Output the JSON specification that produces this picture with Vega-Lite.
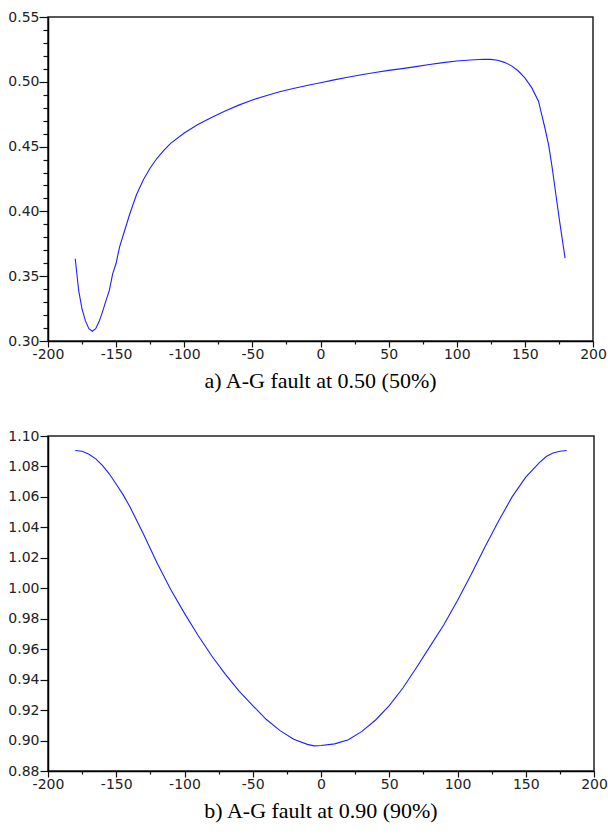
{
  "$schema": "https://vega.github.io/schema/vega-lite/v6.json",
  "padding": {"left": 7, "top": 9, "right": 5, "bottom": 5},
  "background": "white",
  "spacing": 35,
  "datasets": {
    "fault50": [
      {"angle": -180, "value": 0.3635}, {"angle": -177.5, "value": 0.339}, {"angle": -175, "value": 0.3245},
      {"angle": -172.5, "value": 0.3155}, {"angle": -170, "value": 0.3095}, {"angle": -167.5, "value": 0.3075},
      {"angle": -165, "value": 0.3095}, {"angle": -162.5, "value": 0.315}, {"angle": -160, "value": 0.3225},
      {"angle": -157.5, "value": 0.331}, {"angle": -155, "value": 0.339}, {"angle": -152.5, "value": 0.352},
      {"angle": -150, "value": 0.36}, {"angle": -147.5, "value": 0.3725}, {"angle": -145, "value": 0.381},
      {"angle": -140, "value": 0.398}, {"angle": -135, "value": 0.413}, {"angle": -130, "value": 0.4245},
      {"angle": -125, "value": 0.4335}, {"angle": -120, "value": 0.441}, {"angle": -115, "value": 0.447},
      {"angle": -110, "value": 0.4525}, {"angle": -100, "value": 0.4605}, {"angle": -90, "value": 0.467},
      {"angle": -80, "value": 0.4725}, {"angle": -70, "value": 0.4775}, {"angle": -60, "value": 0.482},
      {"angle": -50, "value": 0.486}, {"angle": -40, "value": 0.4893}, {"angle": -30, "value": 0.4923},
      {"angle": -20, "value": 0.4948}, {"angle": -10, "value": 0.4972}, {"angle": 0, "value": 0.4993},
      {"angle": 10, "value": 0.5015}, {"angle": 20, "value": 0.5035}, {"angle": 30, "value": 0.5055},
      {"angle": 40, "value": 0.5072}, {"angle": 50, "value": 0.5088}, {"angle": 60, "value": 0.5102},
      {"angle": 70, "value": 0.5117}, {"angle": 80, "value": 0.5133}, {"angle": 90, "value": 0.5148},
      {"angle": 100, "value": 0.516}, {"angle": 110, "value": 0.5168}, {"angle": 120, "value": 0.5174},
      {"angle": 125, "value": 0.5173}, {"angle": 130, "value": 0.5166}, {"angle": 135, "value": 0.515},
      {"angle": 140, "value": 0.5125}, {"angle": 145, "value": 0.5085}, {"angle": 150, "value": 0.503},
      {"angle": 155, "value": 0.4955}, {"angle": 160, "value": 0.485}, {"angle": 165, "value": 0.463},
      {"angle": 167.5, "value": 0.451}, {"angle": 170, "value": 0.434}, {"angle": 172.5, "value": 0.415},
      {"angle": 175, "value": 0.396}, {"angle": 177.5, "value": 0.378}, {"angle": 179.5, "value": 0.364}
    ],
    "fault90": [
      {"angle": -180, "value": 1.0905}, {"angle": -175, "value": 1.09}, {"angle": -170, "value": 1.088},
      {"angle": -165, "value": 1.085}, {"angle": -160, "value": 1.0805}, {"angle": -155, "value": 1.075},
      {"angle": -150, "value": 1.0683}, {"angle": -145, "value": 1.0615}, {"angle": -140, "value": 1.0535},
      {"angle": -135, "value": 1.0445}, {"angle": -130, "value": 1.0355}, {"angle": -120, "value": 1.0165},
      {"angle": -110, "value": 0.999}, {"angle": -100, "value": 0.9835}, {"angle": -90, "value": 0.969},
      {"angle": -80, "value": 0.9555}, {"angle": -70, "value": 0.9435}, {"angle": -60, "value": 0.9325},
      {"angle": -50, "value": 0.923}, {"angle": -40, "value": 0.9138}, {"angle": -30, "value": 0.9065},
      {"angle": -20, "value": 0.9008}, {"angle": -10, "value": 0.8975}, {"angle": -5, "value": 0.8965},
      {"angle": 0, "value": 0.8967}, {"angle": 10, "value": 0.8978}, {"angle": 20, "value": 0.9005},
      {"angle": 30, "value": 0.906}, {"angle": 40, "value": 0.9135}, {"angle": 50, "value": 0.923},
      {"angle": 60, "value": 0.9345}, {"angle": 70, "value": 0.948}, {"angle": 80, "value": 0.962},
      {"angle": 90, "value": 0.976}, {"angle": 100, "value": 0.992}, {"angle": 110, "value": 1.009},
      {"angle": 120, "value": 1.027}, {"angle": 130, "value": 1.044}, {"angle": 140, "value": 1.06},
      {"angle": 150, "value": 1.073}, {"angle": 160, "value": 1.0825}, {"angle": 165, "value": 1.0865},
      {"angle": 170, "value": 1.0888}, {"angle": 175, "value": 1.09}, {"angle": 180, "value": 1.0905}
    ]
  },
  "config": {
    "view": {"stroke": "#222", "strokeWidth": 1.5},
    "axis": {
      "grid": false,
      "zindex": 1,
      "domainColor": "#000",
      "domainWidth": 1.5,
      "tickColor": "#111",
      "tickWidth": 1.2,
      "labelFont": "DejaVu Sans",
      "labelFontSize": 14,
      "labelColor": "#222",
      "title": null
    },
    "title": {"font": "Liberation Serif", "fontSize": 22, "fontWeight": "normal", "color": "#000", "orient": "bottom", "anchor": "middle", "offset": 10}
  },
  "vconcat": [
    {
      "width": 545,
      "height": 324,
      "title": {"text": "a) A-G fault at 0.50 (50%)"},
      "data": {"name": "fault50"},
      "mark": {"type": "line", "color": "#1f1fff", "strokeWidth": 1.1, "clip": true},
      "encoding": {
        "x": {
          "field": "angle", "type": "quantitative",
          "scale": {"domain": [-200, 200], "nice": false, "zero": false},
          "axis": {
            "values": [-200,-175,-150,-125,-100,-75,-50,-25,0,25,50,75,100,125,150,175,200],
            "labelExpr": "abs(datum.value) % 50 == 25 ? '' : replace(datum.label, '\u2212', '-')",
            "tickSize": {"condition": {"test": "abs(datum.value) % 50 == 25", "value": 3}, "value": 6},
            "labelPadding": 0,
            "labelFlush": false,
            "labelOverlap": false
          }
        },
        "y": {
          "field": "value", "type": "quantitative",
          "scale": {"domain": [0.30, 0.55], "nice": false, "zero": false},
          "axis": {
            "values": [0.30,0.31,0.32,0.33,0.34,0.35,0.36,0.37,0.38,0.39,0.40,0.41,0.42,0.43,0.44,0.45,0.46,0.47,0.48,0.49,0.50,0.51,0.52,0.53,0.54,0.55],
            "format": ".2f",
            "labelExpr": "round(datum.value*100) % 5 != 0 ? '' : datum.label",
            "tickSize": {"condition": {"test": "round(datum.value*100) % 5 != 0", "value": 5}, "value": 9},
            "labelPadding": 0,
            "labelFlush": false,
            "labelOverlap": false
          }
        }
      }
    },
    {
      "width": 546,
      "height": 335,
      "title": {"text": "b) A-G fault at 0.90 (90%)"},
      "data": {"name": "fault90"},
      "mark": {"type": "line", "color": "#1f1fff", "strokeWidth": 1.1, "clip": true},
      "encoding": {
        "x": {
          "field": "angle", "type": "quantitative",
          "scale": {"domain": [-200, 200], "nice": false, "zero": false},
          "axis": {
            "values": [-200,-175,-150,-125,-100,-75,-50,-25,0,25,50,75,100,125,150,175,200],
            "labelExpr": "abs(datum.value) % 50 == 25 ? '' : replace(datum.label, '\u2212', '-')",
            "tickSize": {"condition": {"test": "abs(datum.value) % 50 == 25", "value": 3}, "value": 6},
            "labelPadding": 0,
            "labelFlush": false,
            "labelOverlap": false
          }
        },
        "y": {
          "field": "value", "type": "quantitative",
          "scale": {"domain": [0.88, 1.10], "nice": false, "zero": false},
          "axis": {
            "values": [0.88,0.90,0.92,0.94,0.96,0.98,1.00,1.02,1.04,1.06,1.08,1.10],
            "format": ".2f",
            "tickSize": 8,
            "labelPadding": 1,
            "labelFlush": false,
            "labelOverlap": false
          }
        }
      }
    }
  ]
}
